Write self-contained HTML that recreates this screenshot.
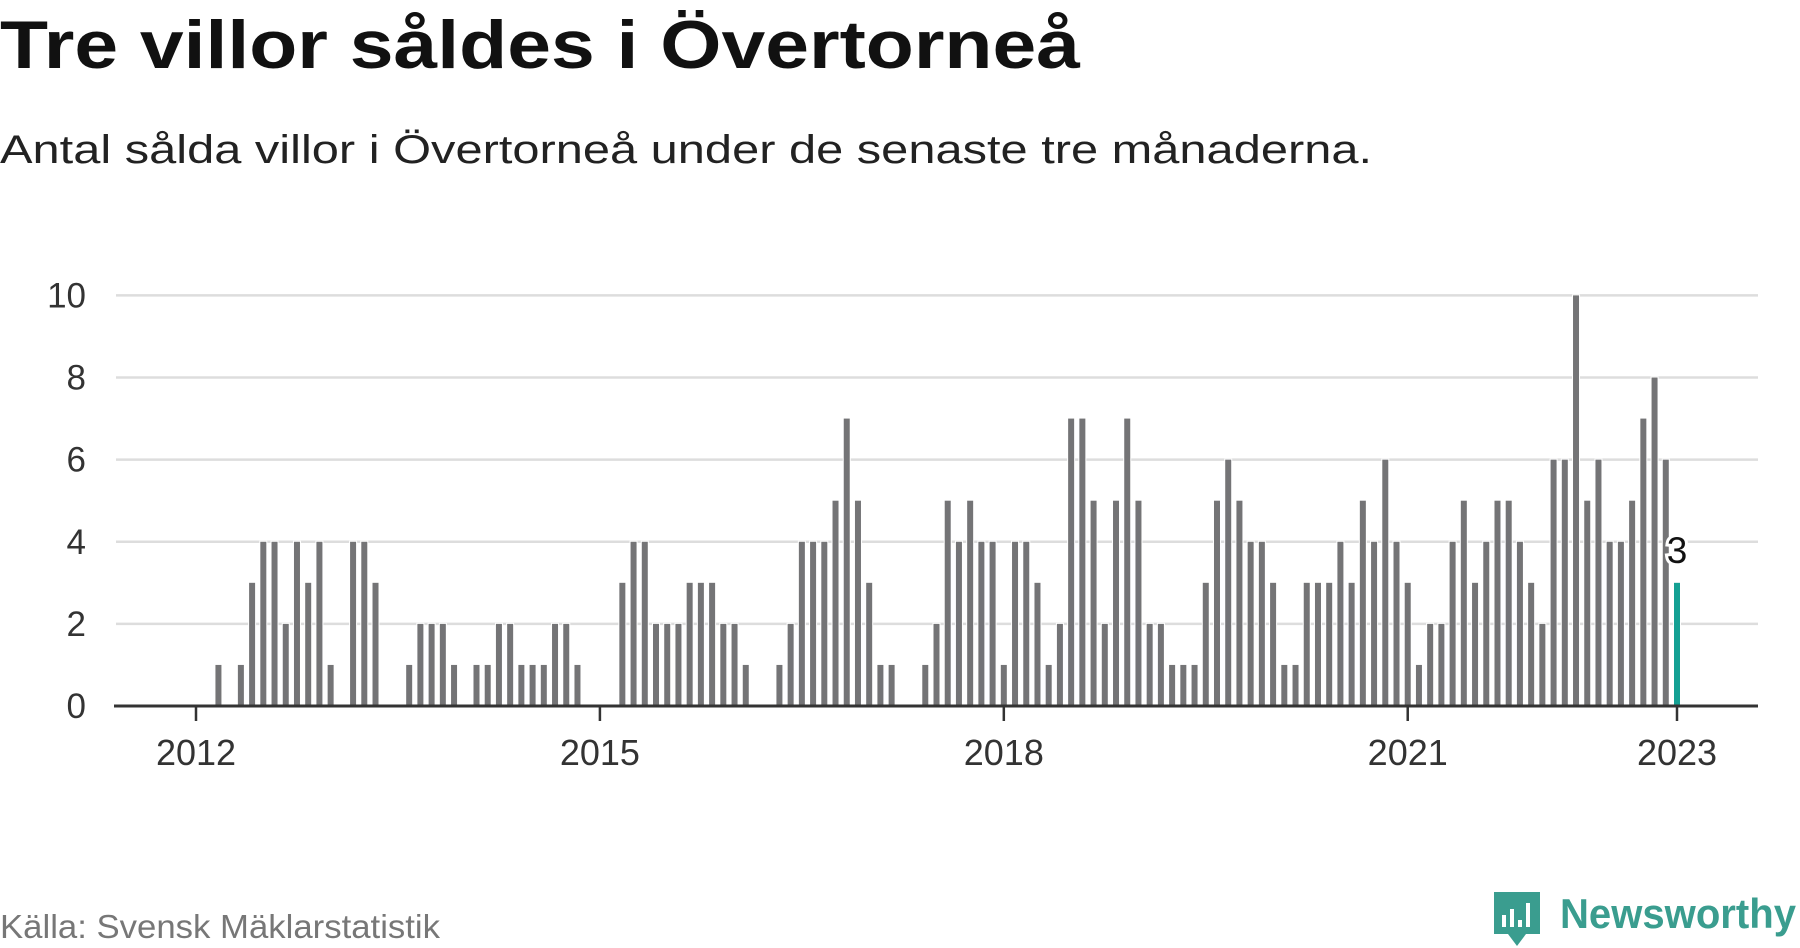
<!DOCTYPE html>
<html><head><meta charset="utf-8"><style>
html,body{margin:0;padding:0;background:#fff;}
svg{display:block;font-family:"Liberation Sans",sans-serif;}
</style></head><body>
<svg id="chart" width="1800" height="948" viewBox="0 0 1800 948">
<text x="0" y="68" font-size="68" font-weight="bold" fill="#111" textLength="1080" lengthAdjust="spacingAndGlyphs">Tre villor såldes i Övertorneå</text>
<text x="0" y="163" font-size="40" fill="#222" textLength="1372" lengthAdjust="spacingAndGlyphs">Antal sålda villor i Övertorneå under de senaste tre månaderna.</text>
<g id="grid"></g>
<g id="bars"></g>
<g id="axes"></g>
<text x="0" y="938" font-size="33" fill="#777" textLength="440" lengthAdjust="spacingAndGlyphs">Källa: Svensk Mäklarstatistik</text>
<g>
<path d="M1494 892 h46 v42 h-14 l-9 12 l-9 -12 h-14 z" fill="#3a9d8f"/>
<rect x="1502" y="915" width="4" height="12" fill="#fff"/>
<rect x="1510" y="909" width="4" height="18" fill="#fff"/>
<rect x="1518" y="920" width="4" height="7" fill="#fff"/>
<rect x="1526" y="903" width="4" height="24" fill="#fff"/>
<text x="1560" y="928" font-size="42" font-weight="bold" fill="#3a9d8f" textLength="236" lengthAdjust="spacingAndGlyphs">Newsworthy</text>
</g>
</svg>
<script>
// month index relative Jan 2012 -> value
const months = [2,4,5,6,7,8,9,10,11,12,14,15,16,19,20,21,22,23,25,26,27,28,29,30,31,32,33,34,38,39,40,41,42,43,44,45,46,47,48,49,52,53,54,55,56,57,58,59,60,61,62,65,66,67,68,69,70,71,72,73,74,75,76,77,78,79,80,81,82,83,84,85,86,87,88,89,90,91,92,93,94,95,96,97,98,99,100,101,102,103,104,105,106,107,108,109,110,111,112,113,114,115,116,117,118,119,120,121,122,123,124,125,126,127,128,129,130,131,132];
const values = [1,1,3,4,4,2,4,3,4,1,4,4,3,1,2,2,2,1,1,1,2,2,1,1,1,2,2,1,3,4,4,2,2,2,3,3,3,2,2,1,1,2,4,4,4,5,7,5,3,1,1,1,2,5,4,5,4,4,1,4,4,3,1,2,7,7,5,2,5,7,5,2,2,1,1,1,3,5,6,5,4,4,3,1,1,3,3,3,4,3,5,4,6,4,3,1,2,2,4,5,3,4,5,5,4,3,2,6,6,10,5,6,4,4,5,7,8,6,3];
const yTicks = [0,2,4,6,8,10];
const xTickMonths = [0,36,72,108,132];
const xTickLabels = ["2012","2015","2018","2021","2023"];
const NS="http://www.w3.org/2000/svg";
const x0=196, perMonth=(1677-196)/132, yBase=706, perUnit=41.06;
const X=m=>x0+m*perMonth, Y=v=>yBase-v*perUnit;
const grid=document.getElementById('grid'), bars=document.getElementById('bars'), axes=document.getElementById('axes');
function mk(tag,attrs,parent){const e=document.createElementNS(NS,tag);for(const k in attrs)e.setAttribute(k,attrs[k]);parent.appendChild(e);return e;}
yTicks.forEach(v=>{
  if(v>0){const l=mk('line',{x1:116,x2:1758,y1:Y(v),y2:Y(v),stroke:'#ddd','stroke-width':2.5},grid);
  
  }
  const t=mk('text',{x:86,y:Y(v)+12,'font-size':35,fill:'#333','text-anchor':'end'},axes);
  t.textContent=v;
  
  
});
const last=months.length-1;
months.forEach((m,i)=>{
  const v=values[i]; if(!v) return;
  const r=mk('rect',{x:X(m)-3,y:Y(v),width:6,height:yBase-Y(v),fill:i===last?'#14a093':'#747476',stroke:'#fff','stroke-width':2,'paint-order':'stroke'},bars);
  
  
});
const lm=months[last], lv=values[last];
const lab=mk('text',{x:X(lm),y:Y(lv)-20,'font-size':37,fill:'#111','text-anchor':'middle',stroke:'#fff','stroke-width':6,'paint-order':'stroke'},axes);
lab.textContent=lv;


const ax=mk('line',{x1:114,x2:1758,y1:yBase,y2:yBase,stroke:'#333','stroke-width':3},axes);


xTickMonths.forEach((m,i)=>{
  const tk=mk('line',{x1:X(m),x2:X(m),y1:yBase,y2:yBase+15,stroke:'#333','stroke-width':2.5},axes);
  
  
  const t=mk('text',{x:X(m),y:765,'font-size':36,fill:'#333','text-anchor':'middle'},axes);
  t.textContent=xTickLabels[i];
  
  
});
</script>
</body></html>
